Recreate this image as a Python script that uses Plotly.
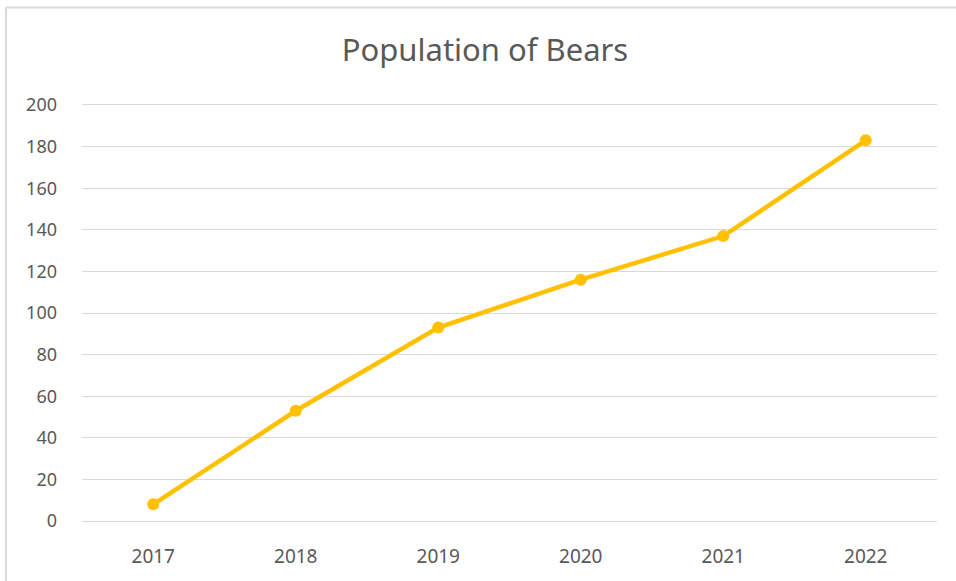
import plotly.graph_objects as go

years = ["2017", "2018", "2019", "2020", "2021", "2022"]
population = [8, 53, 93, 116, 137, 183]
y_ticks = [0, 20, 40, 60, 80, 100, 120, 140, 160, 180, 200]

W, H = 956, 581
L, R, T, B = 82, 19, 105, 60
pw, ph = W - L - R, H - T - B

fig = go.Figure()
fig.add_trace(go.Scatter(
    x=years, y=population, mode="lines+markers",
    line=dict(color="#FFC000", width=4.5),
    marker=dict(color="#FFC000", size=12),
    showlegend=False,
))

font = "Noto Sans, Open Sans, sans-serif"
fig.update_layout(
    width=W, height=H,
    margin=dict(l=L, r=R, t=T, b=B),
    paper_bgcolor="white", plot_bgcolor="white",
    title=dict(text="Population of Bears", x=485 / W, xanchor="center",
               y=1 - 50 / H, yanchor="middle",
               font=dict(family=font, size=31, color="#595959")),
    xaxis=dict(type="category", range=[-0.5, 5.5], showgrid=False,
               showline=True, mirror=True, linecolor="#D9D9D9", linewidth=1,
               zeroline=False, ticks="", ticklabelstandoff=18,
               tickfont=dict(family=font, size=19, color="#595959")),
    yaxis=dict(range=[0, 200], tickvals=y_ticks, showgrid=True,
               gridcolor="#D9D9D9", gridwidth=1, zeroline=False,
               showline=False, ticks="", ticklabelstandoff=24,
               tickfont=dict(family=font, size=18, color="#595959")),
)

bx = (6 - L) / pw
by = (H - B - 7.5) / ph
fig.add_shape(type="line", xref="paper", yref="paper", x0=bx, x1=1.2, y0=by, y1=by,
              line=dict(color="#D9D9D9", width=2), layer="below")
fig.add_shape(type="line", xref="paper", yref="paper", x0=bx, x1=bx, y0=by, y1=-0.3,
              line=dict(color="#D9D9D9", width=2), layer="below")

fig.write_html("out.html")
